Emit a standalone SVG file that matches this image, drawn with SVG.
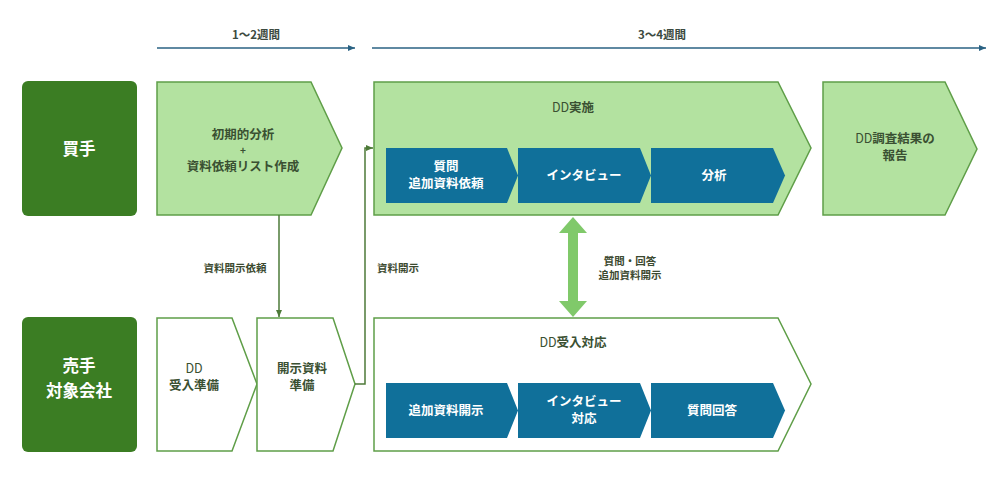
<svg xmlns="http://www.w3.org/2000/svg" width="1000" height="492" viewBox="0 0 1000 492">
<style>
text{font-family:"Noto Sans CJK JP","Noto Sans",sans-serif;text-anchor:middle;font-weight:bold}
.lane{fill:#3b7d23}
.lt{fill:#fff;font-size:16.5px}
.gchev{fill:#b3e2a0;stroke:#5f9e48;stroke-width:1.5}
.wchev{fill:#fff;stroke:#5f9e48;stroke-width:1.5}
.bchev{fill:#10709a}
.gt{fill:#3a5032;font-size:12.5px}
.n{font-weight:normal}
.bt{fill:#fff;font-size:12.5px}
.tl{stroke:#2a6283;stroke-width:1.5;fill:none}
.tlt{fill:#3c4a40;font-size:11.5px}
.con{stroke:#4d7a38;stroke-width:1.5;fill:none}
.ct{fill:#3c4a30;font-size:10.5px}
</style>
<defs>
<marker id="tah" markerWidth="8" markerHeight="8" refX="7" refY="4" orient="auto" markerUnits="userSpaceOnUse"><path d="M0,1 L7,4 L0,7 Z" fill="#2a6283"/></marker>
<marker id="cah" markerWidth="8" markerHeight="8" refX="7" refY="4" orient="auto" markerUnits="userSpaceOnUse"><path d="M0,1 L7,4 L0,7 Z" fill="#4d7a38"/></marker>
</defs>
<g id="timeline">
<line class="tl" x1="157" y1="48" x2="355" y2="48" marker-end="url(#tah)"/>
<text class="tlt" x="256" y="39">1～2週間</text>
<line class="tl" x1="372" y1="48" x2="986" y2="48" marker-end="url(#tah)"/>
<text class="tlt" x="662" y="39">3～4週間</text>
</g>
<g id="lane-buyer">
<rect class="lane" x="22" y="81" width="115" height="135" rx="6"/>
<text class="lt" x="79" y="155">買手</text>
</g>
<g id="lane-seller">
<rect class="lane" x="22" y="317" width="115" height="135" rx="6"/>
<text class="lt" x="79" y="372">売手</text>
<text class="lt" x="79" y="397">対象会社</text>
</g>
<g id="initial">
<path class="gchev" d="M157,82 H311 L342,148 L311,215 H157 Z"/>
<text class="gt" x="243" y="139">初期的分析</text>
<text class="gt" x="243" y="154" style="font-size:10px">+</text>
<text class="gt" x="243" y="171">資料依頼リスト作成</text>
</g>
<g id="dd-exec">
<path class="gchev" d="M374,82 H778 L811,148 L778,215 H374 Z"/>
<text class="gt" x="573" y="112"><tspan class="n">DD</tspan>実施</text>
</g>
<g id="b-q">
<path class="bchev" d="M386,148 H507 L518,175.5 L507,203 H386 Z"/>
<text class="bt" x="446" y="171">質問</text>
<text class="bt" x="446" y="188">追加資料依頼</text>
</g>
<g id="b-iv">
<path class="bchev" d="M518,148 H640 L651,175.5 L640,203 H518 Z"/>
<text class="bt" x="584" y="180">インタビュー</text>
</g>
<g id="b-an">
<path class="bchev" d="M651,148 H773 L785,175.5 L773,203 H651 Z"/>
<text class="bt" x="714" y="180">分析</text>
</g>
<g id="report">
<path class="gchev" d="M823,82 H945 L977,149 L945,215 H823 Z"/>
<text class="gt" x="895" y="143"><tspan class="n">DD</tspan>調査結果の</text>
<text class="gt" x="895" y="160">報告</text>
</g>
<g id="s-prep">
<path class="wchev" d="M157,318 H232 L257,384 L232,451 H157 Z"/>
<text class="gt n" x="194" y="373">DD</text>
<text class="gt" x="194" y="390">受入準備</text>
</g>
<g id="s-docs">
<path class="wchev" d="M257,318 H333 L355,384 L333,451 H257 Z"/>
<text class="gt" x="302" y="373">開示資料</text>
<text class="gt" x="302" y="390">準備</text>
</g>
<g id="dd-resp">
<path class="wchev" d="M374,318 H778 L811,384 L778,451 H374 Z"/>
<text class="gt" x="573" y="347"><tspan class="n">DD</tspan>受入対応</text>
</g>
<g id="s-add">
<path class="bchev" d="M386,383 H507 L518,410.5 L507,438 H386 Z"/>
<text class="bt" x="446" y="415">追加資料開示</text>
</g>
<g id="s-iv">
<path class="bchev" d="M518,383 H640 L651,410.5 L640,438 H518 Z"/>
<text class="bt" x="584" y="406">インタビュー</text>
<text class="bt" x="584" y="423">対応</text>
</g>
<g id="s-ans">
<path class="bchev" d="M651,383 H773 L785,410.5 L773,438 H651 Z"/>
<text class="bt" x="712" y="415">質問回答</text>
</g>
<g id="connectors">
<line class="con" x1="279" y1="215" x2="279" y2="317" marker-end="url(#cah)"/>
<text class="ct" x="235" y="272">資料開示依頼</text>
<path class="con" d="M355,384 H365 V148 H373" marker-end="url(#cah)"/>
<text class="ct" x="398" y="272">資料開示</text>
<path fill="#80c96a" d="M573,217 L587,233 H578 V301 H587 L573,317 L559,301 H568 V233 H559 Z"/>
<text class="ct" x="630" y="265">質問・回答</text>
<text class="ct" x="630" y="279">追加資料開示</text>
</g>
</svg>
